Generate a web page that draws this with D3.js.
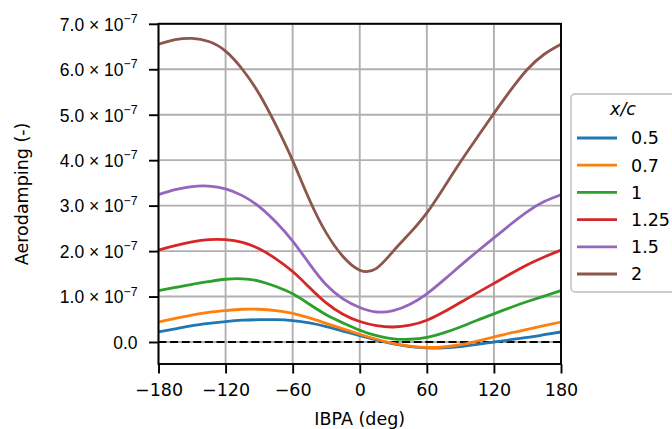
<!DOCTYPE html>
<html>
<head>
<meta charset="utf-8">
<script src="https://cdn.jsdelivr.net/npm/d3@7"></script>
<style>
  html, body { margin: 0; padding: 0; background: #ffffff; }
  svg { display: block; font-family: "DejaVu Sans", sans-serif; }
</style>
</head>
<body>
<svg id="chart" width="672" height="429"></svg>
<script>
// Inter-blade phase angle samples (deg)
const ibpa = [-180, -165, -150, -135, -120, -105, -90, -75, -60, -45, -30, -15, 0,
              15, 30, 45, 60, 75, 90, 105, 120, 135, 150, 165, 180];

// Aerodamping per chordwise position x/c (units of 1e-7)
const xc = ["0.5", "0.7", "1", "1.25", "1.5", "2"];
const damp_05  = [0.22, 0.29, 0.36, 0.41, 0.45, 0.48, 0.49, 0.49, 0.47, 0.42, 0.34, 0.24, 0.14,
                  0.04, -0.04, -0.10, -0.13, -0.13, -0.10, -0.05, 0.00, 0.05, 0.10, 0.16, 0.22];
const damp_07  = [0.44, 0.52, 0.59, 0.65, 0.69, 0.72, 0.72, 0.69, 0.63, 0.53, 0.41, 0.29, 0.17,
                  0.06, -0.03, -0.09, -0.12, -0.11, -0.06, 0.02, 0.11, 0.20, 0.28, 0.36, 0.44];
const damp_1   = [1.13, 1.20, 1.27, 1.33, 1.38, 1.39, 1.34, 1.22, 1.06, 0.83, 0.60, 0.42, 0.26,
                  0.14, 0.07, 0.06, 0.10, 0.20, 0.33, 0.48, 0.62, 0.76, 0.89, 1.01, 1.13];
const damp_125 = [2.02, 2.12, 2.20, 2.25, 2.25, 2.19, 2.05, 1.83, 1.55, 1.20, 0.86, 0.61, 0.45,
                  0.36, 0.33, 0.37, 0.48, 0.66, 0.87, 1.08, 1.29, 1.50, 1.70, 1.87, 2.02];
const damp_15  = [3.24, 3.35, 3.42, 3.43, 3.37, 3.22, 2.98, 2.64, 2.22, 1.72, 1.26, 0.95, 0.76,
                  0.66, 0.69, 0.83, 1.06, 1.36, 1.68, 1.99, 2.29, 2.59, 2.87, 3.09, 3.24];
const damp_2   = [6.55, 6.65, 6.68, 6.61, 6.40, 6.00, 5.46, 4.77, 3.99, 3.13, 2.40, 1.88, 1.58,
                  1.62, 2.00, 2.40, 2.84, 3.39, 3.96, 4.50, 5.03, 5.54, 6.00, 6.33, 6.55];
const seriesValues = [damp_05, damp_07, damp_1, damp_125, damp_15, damp_2];
const colors = ["#1f77b4", "#ff7f0e", "#2ca02c", "#d62728", "#9467bd", "#8c564b"];

// Axis ticks
const xTicks = [-180, -120, -60, 0, 60, 120, 180];
const yTicks = [0, 1, 2, 3, 4, 5, 6, 7];
const yDomain = [-0.484, 7.0];

const svg = d3.select("#chart");
const plotL = 158.5, plotR = 561, plotT = 23.8, plotB = 364;
const fs = 17.5;

const x = d3.scaleLinear().domain([-180, 180]).range([plotL, plotR]);
const y = d3.scaleLinear().domain(yDomain).range([plotB, plotT]);

// Grid
const grid = svg.append("g").attr("stroke", "#b0b0b0").attr("stroke-width", 1.9);
xTicks.forEach(t => grid.append("line")
  .attr("x1", x(t)).attr("x2", x(t)).attr("y1", plotT).attr("y2", plotB));
yTicks.forEach(t => grid.append("line")
  .attr("x1", plotL).attr("x2", plotR).attr("y1", y(t)).attr("y2", y(t)));

// Zero reference line
svg.append("line")
  .attr("x1", plotL).attr("x2", plotR).attr("y1", y(0)).attr("y2", y(0))
  .attr("stroke", "#000").attr("stroke-width", 2.2)
  .attr("stroke-dasharray", "8,3.6");

// Curves
const line = d3.line()
  .x((d, i) => x(ibpa[i]))
  .y(d => y(d))
  .curve(d3.curveNatural);

svg.append("g").selectAll("path")
  .data(seriesValues)
  .join("path")
  .attr("d", d => line(d))
  .attr("fill", "none")
  .attr("stroke", (d, i) => colors[i])
  .attr("stroke-width", 2.8);

// Axes
const xAxis = svg.append("g").attr("transform", `translate(0,${plotB})`)
  .call(d3.axisBottom(x).tickValues(xTicks).tickSize(9.5).tickPadding(10)
    .tickFormat(d => d < 0 ? "\u2212" + Math.abs(d) : String(d)));
const yAxis = svg.append("g").attr("transform", `translate(${plotL},0)`)
  .call(d3.axisLeft(y).tickValues(yTicks).tickSize(9.5).tickPadding(5).tickFormat(""));

[xAxis, yAxis].forEach(a => {
  a.select(".domain").remove();
  a.selectAll(".tick line").attr("stroke", "#000").attr("stroke-width", 1.9);
  a.selectAll("text").attr("font-size", fs).attr("fill", "#000")
    .attr("font-family", "DejaVu Sans, sans-serif");
});

// Scientific y tick labels
yAxis.selectAll(".tick").each(function(d) {
  const t = d3.select(this).append("text")
    .attr("x", -21).attr("dy", "0.36em")
    .attr("text-anchor", "end")
    .attr("font-size", fs).attr("fill", "#000");
  if (d === 0) {
    t.text("0.0");
  } else {
    t.append("tspan").text(d.toFixed(1) + "\u00a0\u00d7\u00a010");
    t.append("tspan").attr("font-size", fs * 0.7).attr("dy", "-0.62em").text("\u22127");
  }
});

// Frame
svg.append("rect")
  .attr("x", plotL).attr("y", plotT).attr("width", plotR - plotL).attr("height", plotB - plotT)
  .attr("fill", "none").attr("stroke", "#000").attr("stroke-width", 1.9);

// Axis titles
svg.append("text")
  .attr("x", (plotL + plotR) / 2).attr("y", 425)
  .attr("text-anchor", "middle").attr("font-size", fs)
  .text("IBPA (deg)");
svg.append("text")
  .attr("transform", `translate(28,${(plotT + plotB) / 2}) rotate(-90)`)
  .attr("text-anchor", "middle").attr("font-size", fs)
  .text("Aerodamping (-)");

// Legend
const lg = svg.append("g");
lg.append("rect")
  .attr("x", 571).attr("y", 94).attr("width", 106).attr("height", 198).attr("rx", 4)
  .attr("fill", "#ffffff").attr("fill-opacity", 0.8)
  .attr("stroke", "#cccccc").attr("stroke-width", 1.8);
lg.append("text")
  .attr("x", 623).attr("y", 114.5).attr("text-anchor", "middle")
  .attr("font-size", fs).attr("font-style", "italic")
  .text("x/c");
xc.forEach((label, i) => {
  const cy = 138 + i * 27.2;
  lg.append("line")
    .attr("x1", 577).attr("x2", 617).attr("y1", cy).attr("y2", cy)
    .attr("stroke", colors[i]).attr("stroke-width", 2.8);
  lg.append("text")
    .attr("x", 631).attr("y", cy + 6.3)
    .attr("font-size", fs)
    .text(label);
});
</script>
</body>
</html>
